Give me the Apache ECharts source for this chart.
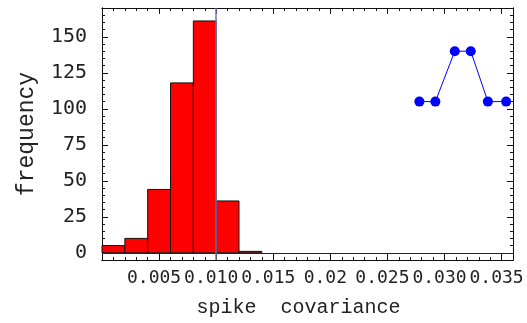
<!DOCTYPE html>
<html>
<head>
<meta charset="utf-8">
<script src="https://cdn.jsdelivr.net/npm/echarts@6/dist/echarts.min.js"></script>
<style>
  html, body { margin: 0; padding: 0; background: #fff; }
  #chart { width: 527px; height: 323px; }
</style>
</head>
<body>
<div id="chart"></div>
<script>
// histogram bins (start of each bin, width 0.002)
var binStarts = [0, 0.002, 0.004, 0.006, 0.008, 0.010, 0.012];
var binWidth = 0.002;
var binCounts = [5, 10, 44, 118, 161, 36, 1];

// the blue points
var pointX = [0.0278, 0.0292, 0.0309, 0.0323, 0.0338, 0.0354];
var pointY = [105, 105, 140, 140, 105, 105];

// tick labels
var xTicks = [0.005, 0.010, 0.015, 0.020, 0.025, 0.030, 0.035];
var xTickLabels = ['0.005', '0.010', '0.015', '0.02', '0.025', '0.030', '0.035'];
var yTicks = [0, 25, 50, 75, 100, 125, 150];
var yTickLabels = ['0', '25', '50', '75', '100', '125', '150'];

var xMinor = [];
for (var i = 1; i <= 36; i++) xMinor.push(i / 1000);
var yMinor = [];
for (var j = -5; j <= 170; j += 5) yMinor.push(j);

var chartDom = document.getElementById('chart');
var chart = echarts.init(chartDom);

var labelFont = 'DejaVu Sans Mono';
var nameFont = 'Liberation Mono';

function frameAxis(pos, isX, ticks, len, withLabels) {
    var ax = {
        type: 'value',
        position: pos,
        min: isX ? 0 : -5,
        max: isX ? 0.036 : 170,
        axisLine: { show: true, onZero: false, lineStyle: { color: '#111', width: 1 } },
        axisTick: { show: true, inside: true, length: len, customValues: ticks,
                    lineStyle: { color: '#111', width: 1 } },
        axisLabel: { show: false },
        splitLine: { show: false }
    };
    if (withLabels) {
        var vals = isX ? xTicks : yTicks;
        var labs = isX ? xTickLabels : yTickLabels;
        ax.axisLabel = {
            show: true,
            customValues: vals,
            fontFamily: labelFont,
            fontSize: isX ? 18 : 20,
            color: '#222',
            margin: isX ? 9 : 15,
            padding: isX ? [0, 10, 0, 0] : 0,
            formatter: function (v) {
                for (var k = 0; k < vals.length; k++) {
                    if (Math.abs(vals[k] - v) < 1e-9) return labs[k];
                }
                return '';
            }
        };
    }
    return ax;
}

var xMain = frameAxis('bottom', true, xTicks, 6, true);
xMain.name = 'spike  covariance';
xMain.nameLocation = 'middle';
xMain.nameGap = 38;
xMain.nameTextStyle = { fontFamily: nameFont, fontSize: 20, color: '#222', padding: [0, 18, 0, 0] };

var yMain = frameAxis('left', false, yTicks, 6, true);
yMain.name = 'frequency';
yMain.nameLocation = 'middle';
yMain.nameGap = 64;
yMain.nameTextStyle = { fontFamily: nameFont, fontSize: 23, color: '#222' };

var option = {
    animation: false,
    backgroundColor: '#fff',
    grid: { left: 102, right: 14, top: 8, bottom: 62, containLabel: false },
    xAxis: [
        xMain,
        frameAxis('bottom', true, xMinor, 3, false),
        frameAxis('top', true, xTicks, 6, false),
        frameAxis('top', true, xMinor, 3, false)
    ],
    yAxis: [
        yMain,
        frameAxis('left', false, yMinor, 3, false),
        frameAxis('right', false, yTicks, 6, false),
        frameAxis('right', false, yMinor, 3, false)
    ],
    series: [
        {
            // reference lines: x axis at 0 and y axis at 0.010
            type: 'line',
            data: [],
            z: 1,
            silent: true,
            markLine: {
                symbol: 'none',
                silent: true,
                label: { show: false },
                animation: false,
                data: [
                    { yAxis: 0, lineStyle: { color: '#222', width: 1.2, type: 'solid' } },
                    { xAxis: 0.010, lineStyle: { color: '#7272b4', width: 1.5, type: 'solid' } }
                ]
            }
        },
        {
            type: 'custom',
            z: 2,
            data: binStarts.map(function (s, i) { return [s, s + binWidth, binCounts[i]]; }),
            renderItem: function (params, api) {
                var p0 = api.coord([api.value(0), api.value(2)]);
                var p1 = api.coord([api.value(1), 0]);
                return {
                    type: 'rect',
                    shape: { x: p0[0], y: p0[1], width: p1[0] - p0[0], height: p1[1] - p0[1] },
                    style: { fill: '#ff0000', stroke: '#111', lineWidth: 1 }
                };
            }
        },
        {
            type: 'line',
            z: 3,
            data: pointX.map(function (x, i) { return [x, pointY[i]]; }),
            symbol: 'circle',
            symbolSize: 10,
            itemStyle: { color: '#0000ff' },
            lineStyle: { color: '#0000ff', width: 1 }
        }
    ]
};

chart.setOption(option);
</script>
</body>
</html>
